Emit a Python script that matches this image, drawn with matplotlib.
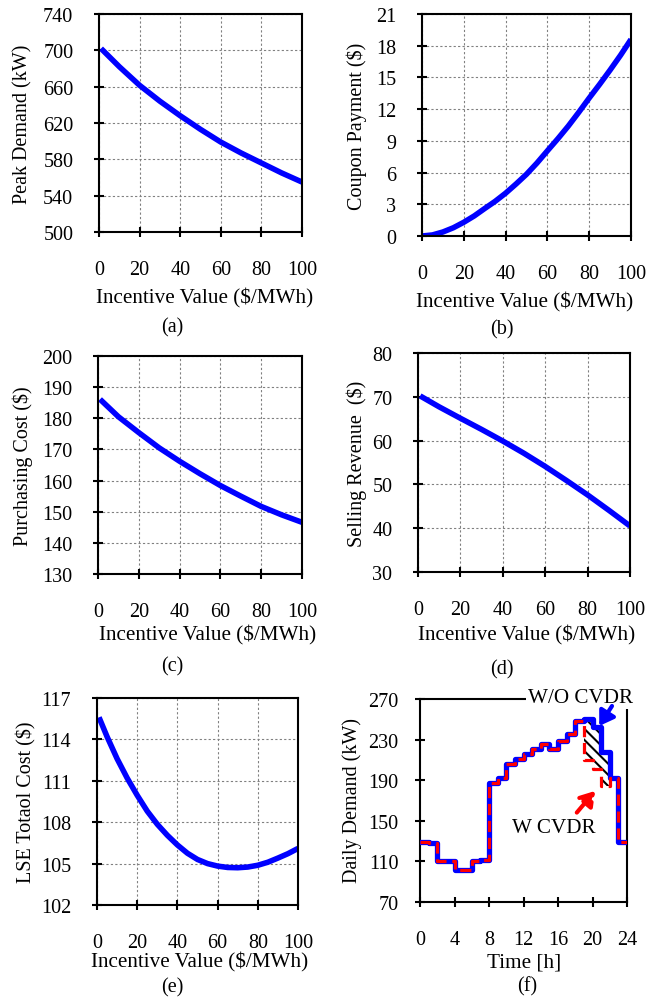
import matplotlib
matplotlib.use('Agg')
import matplotlib.pyplot as plt

plt.rcParams['font.family'] = ['Liberation Serif', 'DejaVu Serif']
plt.rcParams['font.size'] = 14.5
plt.rcParams['hatch.linewidth'] = 1.5

# incentive value ($/MWh)
inc = [1, 10, 20, 30, 40, 50, 60, 70, 80, 90, 100]
inc_b = [0, 5, 10, 15, 20, 25, 30, 35, 40, 45, 50, 55, 60, 65, 70, 75, 80, 85, 90, 95, 100]
inc_e = [1, 5, 10, 15, 20, 25, 30, 35, 40, 45, 50, 55, 60, 65, 70, 75, 80, 85, 90, 95, 100]

peak = [702, 682, 661.5, 644, 628, 613, 599, 587, 576, 565, 555]
coupon = [0, 0.1, 0.38, 0.78, 1.3, 1.9, 2.6, 3.28, 4.05, 4.92, 5.84, 6.9, 8.06,
          9.2, 10.4, 11.7, 13.05, 14.35, 15.7, 17.1, 18.6]
purchase = [186.1, 180.5, 175.4, 170.5, 166.2, 162.2, 158.4, 155, 151.7, 149, 146.6]
selling = [70.2, 67.7, 65.1, 62.55, 59.9, 57.1, 54.1, 50.9, 47.6, 44.1, 40.5]
lse = [115.6, 114.2, 112.6, 111.2, 109.95, 108.8, 107.85, 107.05, 106.35, 105.75, 105.3,
       105.0, 104.82, 104.72, 104.7, 104.75, 104.88, 105.1, 105.4, 105.72, 106.1]

hours = list(range(25))
wo_cvdr = [129, 128, 110, 110, 101.5, 101.5, 110, 111, 187, 192, 205.5, 211, 215.5,
           220.5, 225.5, 221, 229, 235.5, 248, 250, 242, 218, 192, 129]
w_cvdr = [129, 128, 110, 110, 101.5, 101.5, 110, 111, 187, 192, 205.5, 211, 215.5,
          220.5, 225.5, 221, 229, 235.5, 248, 210, 201, 184, 192, 129]

W, H = 659, 1003
fig = plt.figure(figsize=(W / 100, H / 100), dpi=100)


def box(l, r, t, b):
    return [l / W, (H - b) / H, (r - l) / W, (b - t) / H]


def style(ax, grid=True, ypad=15):
    for s in ax.spines.values():
        s.set_linewidth(1.5)
    ax.tick_params(direction='inout', length=7, width=1.5)
    ax.tick_params(axis='x', pad=16.5)
    ax.tick_params(axis='y', pad=ypad)
    if grid:
        ax.grid(True, color='#808080', linestyle=(0, (2, 2)), linewidth=0.8)
        ax.set_axisbelow(True)


def ftext(x, y, s, **kw):
    fig.text(x / W, 1 - y / H, s, ha='center', va='center', **kw)


panels = [
    (box(99, 302, 15, 233), inc, peak, (500, 740), 40, 'Peak Demand (kW)', 23, (205, 298), (172, 328)),
    (box(422, 631, 15, 237), inc_b, coupon, (0, 21), 3, 'Coupon Payment ($)', 357, (525, 302), (502, 330)),
    (box(98, 302, 357, 575), inc, purchase, (130, 200), 10, 'Purchasing Cost ($)', 23, (208, 635), (172, 667)),
    (box(418, 630, 354, 573), inc, selling, (30, 80), 10, 'Selling Revenue  ($)', 357, (527, 635), (502, 670)),
    (box(97, 298, 699, 906), inc_e, lse, (102, 117), 3, 'LSE Totaol Cost ($)', 26, (200, 962), (172, 988)),
]
letters = ['(a)', '(b)', '(c)', '(d)', '(e)']

for (rect, xs, ys, ylim, ystep, ylab, ylx, xl, pl), let in zip(panels, letters):
    ax = fig.add_axes(rect)
    ax.plot(xs, ys, color='#0000FF', linewidth=4, solid_capstyle='butt')
    ax.set_xlim(0, 100)
    ax.set_ylim(*ylim)
    ax.set_xticks(range(0, 101, 20))
    ax.set_yticks([ylim[0] + i * ystep for i in range(int(round((ylim[1] - ylim[0]) / ystep)) + 1)])
    style(ax)
    b = ax.get_position()
    ftext(ylx, (1 - (b.y0 + b.height / 2)) * H, ylab, rotation=90)
    ftext(xl[0], xl[1], 'Incentive Value ($/MWh)', fontsize=15.2)
    ftext(pl[0], pl[1], let)

# panel (f)
ax = fig.add_axes(box(420, 627, 700, 903))
ax.step(hours, wo_cvdr + [wo_cvdr[-1]], where='post', color='#0000FF', linewidth=3.8, zorder=3)
ax.step(hours, w_cvdr + [w_cvdr[-1]], where='post', color='#FF0000', linewidth=2.3,
        linestyle=(0, (3.5, 1.8)), zorder=4)
ax.fill_between(hours[19:23], w_cvdr[19:23], wo_cvdr[19:23], step='post',
                facecolor='none', edgecolor='black', hatch='\\\\\\', linewidth=0, zorder=2)
ax.set_xlim(0, 24)
ax.set_ylim(70, 270)
ax.set_xticks(range(0, 25, 4))
ax.set_yticks(range(70, 271, 40))
style(ax, grid=False, ypad=12)
ax.text(18.57, 271.4, 'W/O CVDR', ha='center', va='center', zorder=10, clip_on=False,
        fontsize=15.2, bbox=dict(facecolor='white', edgecolor='none', pad=1.5))
ax.text(15.56, 143.3, 'W CVDR', ha='center', va='center', zorder=10, fontsize=15.2)
ax.annotate('', xy=(20.78, 243.4), xytext=(22.26, 263.1), annotation_clip=False,
            arrowprops=dict(arrowstyle='-|>,head_length=0.7,head_width=0.45', color='#0000FF',
                            lw=3, shrinkA=0, shrinkB=0, mutation_scale=12), zorder=11)
ax.annotate('', xy=(20.3, 179.4), xytext=(18.18, 158.1),
            arrowprops=dict(arrowstyle='-|>,head_length=0.7,head_width=0.45', color='#FF0000',
                            lw=3, linestyle='--', shrinkA=0, shrinkB=0, mutation_scale=12), zorder=11)
ftext(352, 801, 'Daily Demand (kW)', rotation=90)
ftext(524, 963, 'Time [h]', fontsize=15.2)
ftext(527, 987, '(f)')

fig.savefig('out.png', dpi=100)
